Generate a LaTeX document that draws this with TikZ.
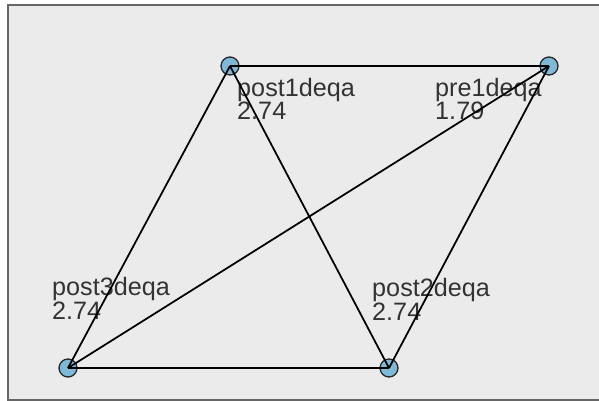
\documentclass[tikz,border=0pt]{standalone}
\usepackage{fontspec}
\setmainfont{Liberation Sans}
\usetikzlibrary{positioning}

\begin{document}
\begin{tikzpicture}[x=0.03cm,y=-0.03cm,
  vertex/.style={circle,draw=black!85,fill={rgb,255:red,128;green,184;blue,216},line width=1.1pt,minimum size=0.54cm,inner sep=0pt},
  lbl/.style={anchor=base west,align=left,inner sep=0pt,text=black!80,font=\fontsize{21.5}{18.8}\selectfont},
  edge/.style={line width=1.5pt,black}]
\useasboundingbox (0,0) rectangle (599,401);
\fill[white] (0,0) rectangle (599,401);
\draw[fill={rgb,255:red,235;green,235;blue,235},draw=black!60,line width=1.5pt] (8,5) rectangle (620,400);
% vertices
\node[vertex] (post1) at (230,66) {};
\node[vertex] (pre1) at (549,66) {};
\node[vertex] (post3) at (68,368) {};
\node[vertex] (post2) at (389,368) {};
% labels (anchored on the second line)
\node[lbl] (post1lbl) at (237,120) {post1deqa\\2.74};
\node[lbl] (pre1lbl) at (435,120) {pre1deqa\\1.79};
\node[lbl] (post3lbl) at (52,319) {post3deqa\\2.74};
\node[lbl] (post2lbl) at (372,320) {post2deqa\\2.74};
% edges
\draw[edge] (post1.center)--(pre1.center);
\draw[edge] (post1.center)--(post3.center);
\draw[edge] (post1.center)--(post2.center);
\draw[edge] (pre1.center)--(post3.center);
\draw[edge] (pre1.center)--(post2.center);
\draw[edge] (post3.center)--(post2.center);
\end{tikzpicture}
\end{document}
